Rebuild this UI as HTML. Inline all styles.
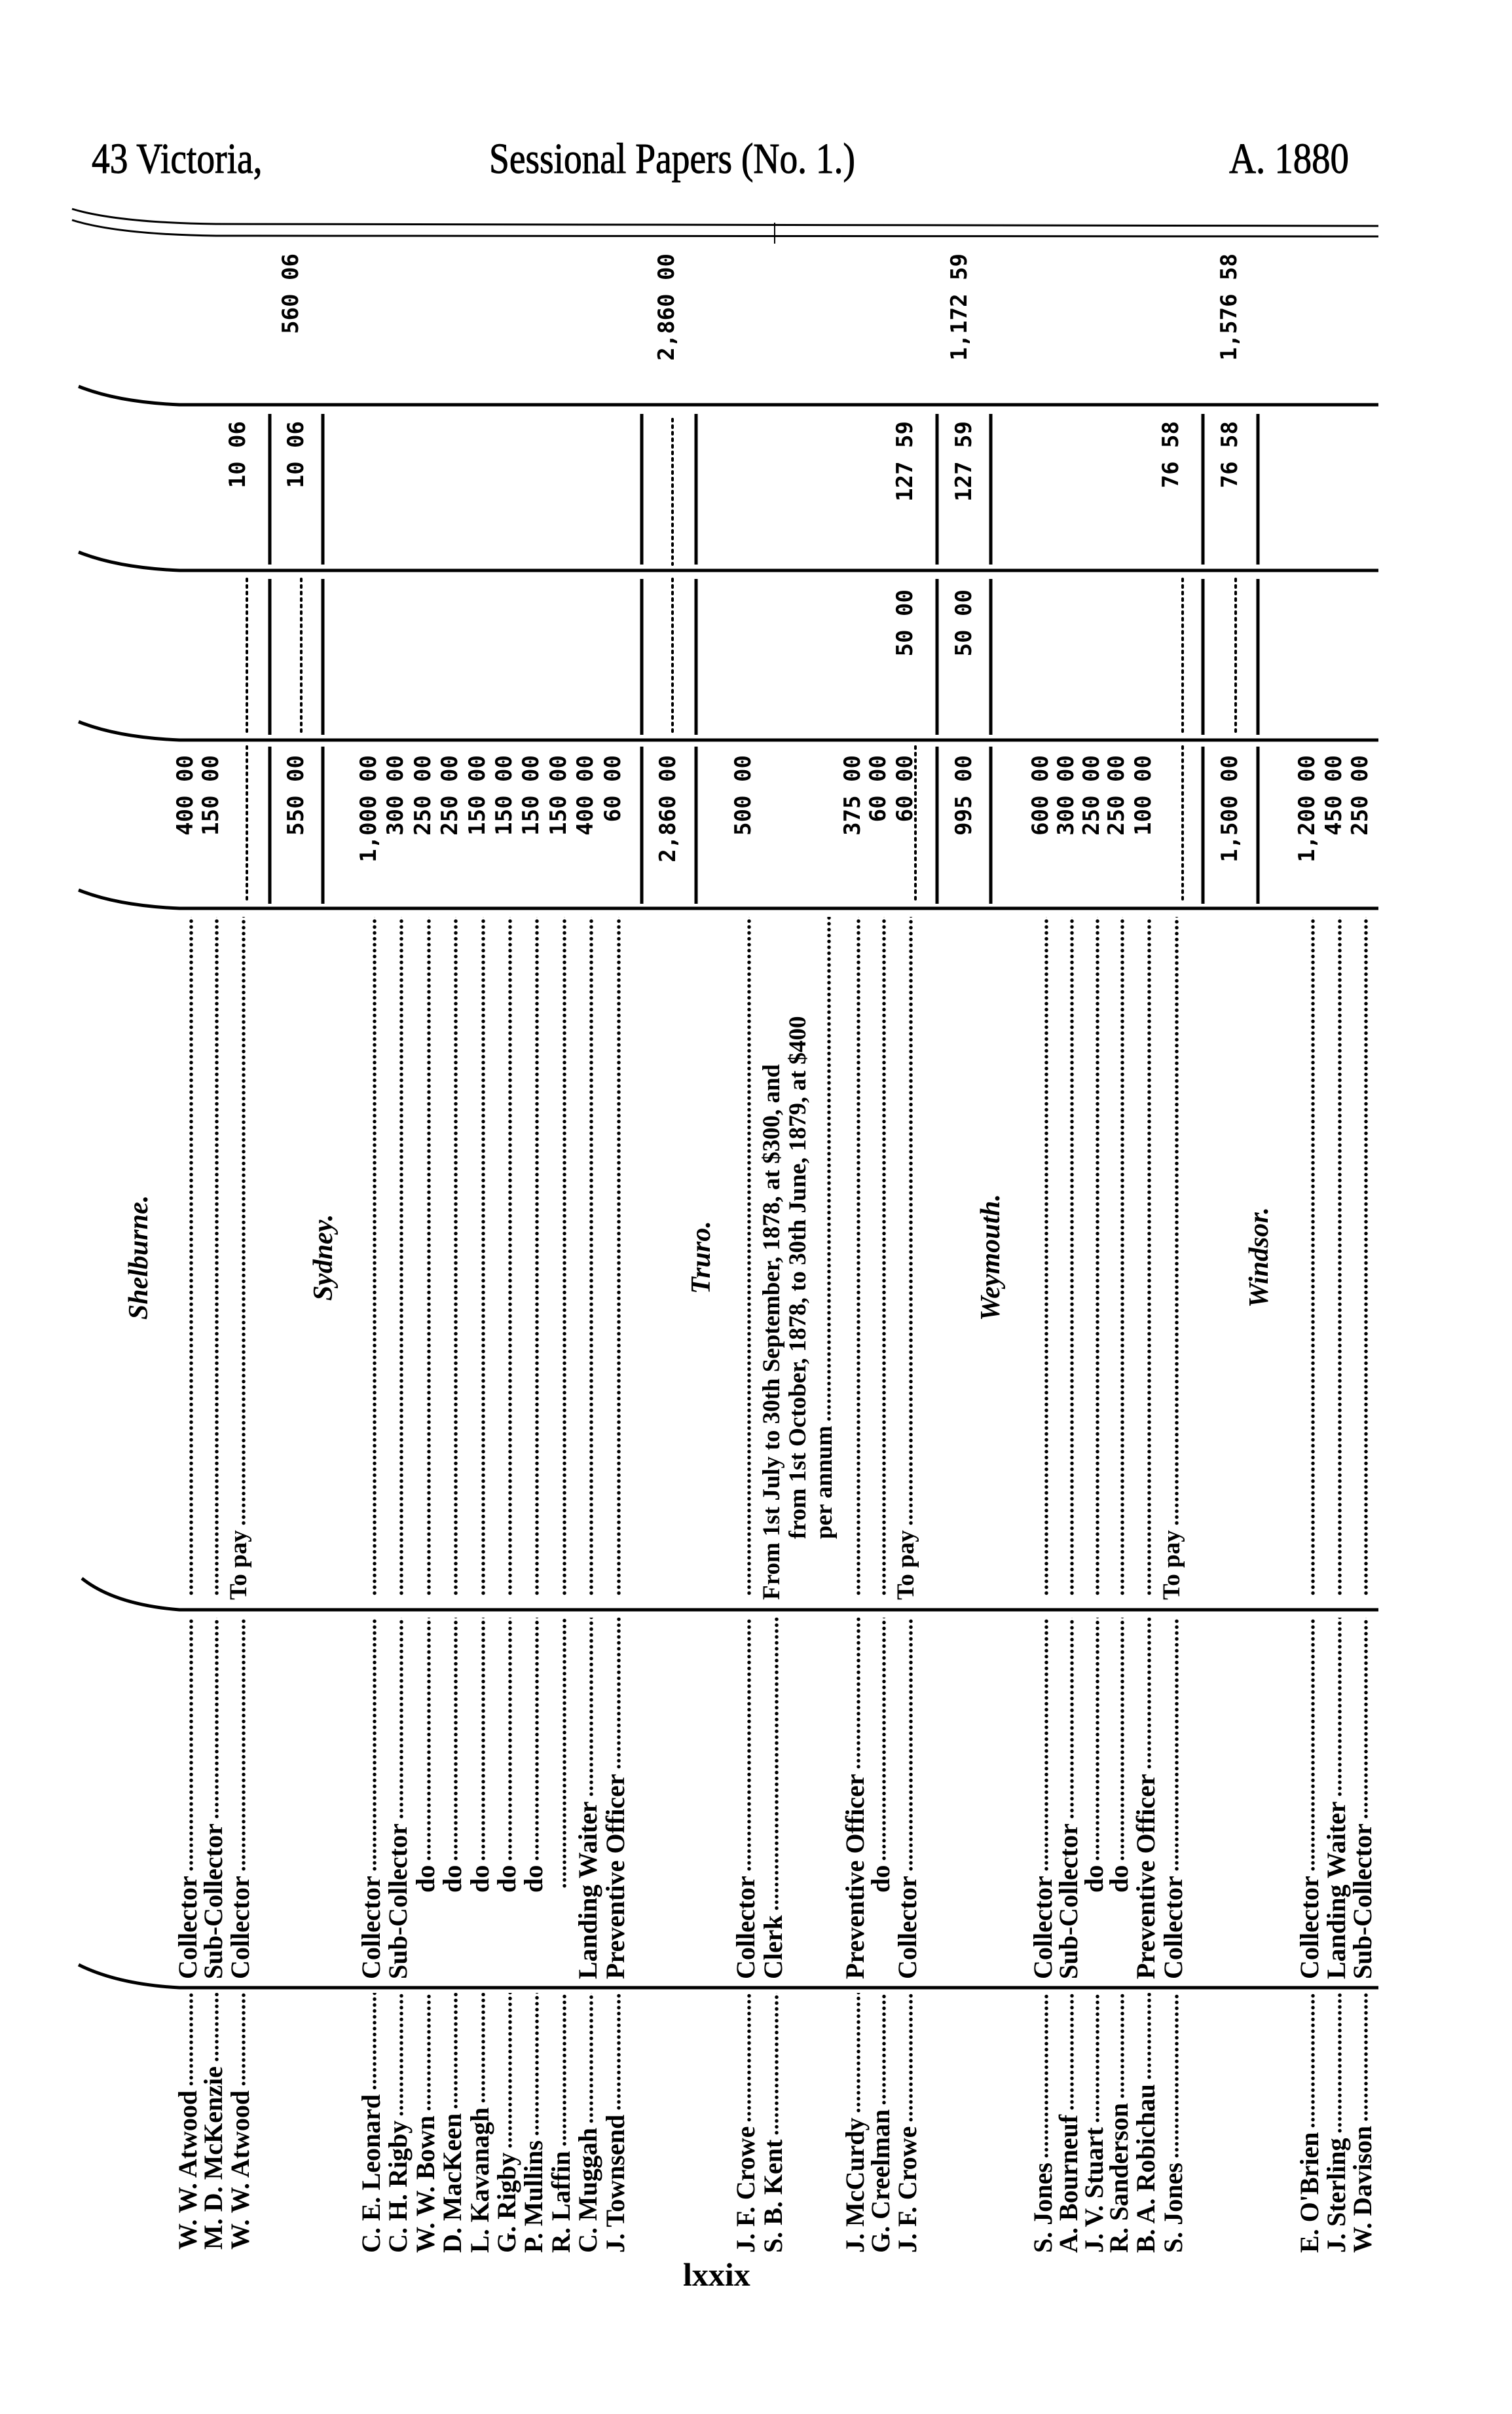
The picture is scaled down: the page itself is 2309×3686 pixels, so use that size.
<!DOCTYPE html>
<html><head><meta charset="utf-8">
<style>
html,body{margin:0;padding:0;background:#fff;}
body{width:2309px;height:3686px;position:relative;overflow:hidden;color:#000;}
.h{position:absolute;top:210px;font:66px/66px "Liberation Serif",serif;white-space:nowrap;transform:scaleX(0.84);transform-origin:0 0;-webkit-text-stroke:1px #000;}
.r{position:absolute;transform:rotate(-90deg);transform-origin:0 0;height:40px;line-height:40px;white-space:nowrap;display:flex;font:bold 40px "Liberation Serif",serif;}
.f{flex:1;height:6px;align-self:flex-end;margin:0 0 8px 6px;background:radial-gradient(circle,#000 2.4px,transparent 3px) 0 0/9px 6px repeat-x;}
.n{font:bold 34px "DejaVu Sans Mono","Liberation Mono",monospace;justify-content:flex-end;width:250px;}
.d{font:bold 37px "Liberation Serif",serif;}
.l{font:italic bold 42px "Liberation Serif",serif;justify-content:center;width:300px;}
svg{position:absolute;left:0;top:0;}
</style></head><body>

<div class="h" style="left:140px">43 Victoria,</div>
<div class="h" style="left:747px;transform:scaleX(0.84)">Sessional Papers (No. 1.)</div>
<div class="h" style="left:1877px;transform:scaleX(0.86)">A. 1880</div>

<svg width="2309" height="3686" viewBox="0 0 2309 3686">
<g fill="none" stroke="#000" stroke-width="5">
<path d="M110 319 Q180 340 330 342 L2105 345" stroke-width="3"/>
<path d="M110 336 Q180 358 330 360 L2105 361" stroke-width="3"/>
<path d="M1183 340 L1183 372" stroke-width="2"/>
<path d="M120 590 Q180 614 274 618 L2105 618"/>
<path d="M120 843 Q180 867 274 871 L2105 871"/>
<path d="M120 1102 Q180 1126 274 1130 L2105 1130"/>
<path d="M120 1359 Q180 1383 274 1387 L2105 1387"/>
<path d="M125 2410 Q175 2450 274 2458 L2105 2458"/>
<path d="M120 3000 Q180 3030 274 3035 L2105 3035"/>
</g>
<g stroke="#000" stroke-width="5">
<path d="M412 632V862M412 884V1122M412 1140V1380"/>
<path d="M493 632V862M493 884V1122M493 1140V1380"/>
<path d="M980 632V862M980 884V1122M980 1140V1380"/>
<path d="M1063 632V862M1063 884V1122M1063 1140V1380"/>
<path d="M1431 632V862M1431 884V1122M1431 1140V1380"/>
<path d="M1513 632V862M1513 884V1122M1513 1140V1380"/>
<path d="M1837 632V862M1837 884V1122M1837 1140V1380"/>
<path d="M1921 632V862M1921 884V1122M1921 1140V1380"/>
</g>
<g stroke="#000" stroke-width="4" stroke-dasharray="3 7" stroke-linecap="round">
<path d="M377 884V1122M377 1140V1380"/>
<path d="M460 884V1122"/>
<path d="M1027 640V862M1027 884V1122"/>
<path d="M1398 1140V1380"/>
<path d="M1806 884V1122M1806 1140V1380"/>
<path d="M1887 884V1122"/>
</g>
</svg>

<!-- totals column -->
<div class="r n" style="left:424px;top:637px">560 06</div>
<div class="r n" style="left:998px;top:637px">2,860 00</div>
<div class="r n" style="left:1445px;top:637px">1,172 59</div>
<div class="r n" style="left:1857px;top:637px">1,576 58</div>

<!-- amt3 column -->
<div class="r n" style="left:343px;top:893px">10 06</div>
<div class="r n" style="left:432px;top:893px">10 06</div>
<div class="r n" style="left:1362px;top:893px">127 59</div>
<div class="r n" style="left:1452px;top:893px">127 59</div>
<div class="r n" style="left:1768px;top:893px">76 58</div>
<div class="r n" style="left:1858px;top:893px">76 58</div>

<!-- amt2 column -->
<div class="r n" style="left:1362px;top:1150px">50 00</div>
<div class="r n" style="left:1452px;top:1150px">50 00</div>

<!-- amt1 column -->
<div class="r n" style="left:263px;top:1403px">400 00</div>
<div class="r n" style="left:302px;top:1403px">150 00</div>
<div class="r n" style="left:432px;top:1403px">550 00</div>
<div class="r n" style="left:543px;top:1403px">1,000 00</div>
<div class="r n" style="left:584px;top:1403px">300 00</div>
<div class="r n" style="left:626px;top:1403px">250 00</div>
<div class="r n" style="left:667px;top:1403px">250 00</div>
<div class="r n" style="left:709px;top:1403px">150 00</div>
<div class="r n" style="left:750px;top:1403px">150 00</div>
<div class="r n" style="left:791px;top:1403px">150 00</div>
<div class="r n" style="left:833px;top:1403px">150 00</div>
<div class="r n" style="left:874px;top:1403px">400 00</div>
<div class="r n" style="left:916px;top:1403px">60 00</div>
<div class="r n" style="left:1000px;top:1403px">2,860 00</div>
<div class="r n" style="left:1115px;top:1403px">500 00</div>
<div class="r n" style="left:1282px;top:1403px">375 00</div>
<div class="r n" style="left:1321px;top:1403px">60 00</div>
<div class="r n" style="left:1362px;top:1403px">60 00</div>
<div class="r n" style="left:1452px;top:1403px">995 00</div>
<div class="r n" style="left:1569px;top:1403px">600 00</div>
<div class="r n" style="left:1608px;top:1403px">300 00</div>
<div class="r n" style="left:1647px;top:1403px">250 00</div>
<div class="r n" style="left:1685px;top:1403px">250 00</div>
<div class="r n" style="left:1726px;top:1403px">100 00</div>
<div class="r n" style="left:1858px;top:1403px">1,500 00</div>
<div class="r n" style="left:1976px;top:1403px">1,200 00</div>
<div class="r n" style="left:2017px;top:1403px">450 00</div>
<div class="r n" style="left:2057px;top:1403px">250 00</div>

<!-- labels -->
<div class="r l" style="left:188px;top:2070px">Shelburne.</div>
<div class="r l" style="left:470px;top:2070px">Sydney.</div>
<div class="r l" style="left:1047px;top:2070px">Truro.</div>
<div class="r l" style="left:1489px;top:2070px">Weymouth.</div>
<div class="r l" style="left:1899px;top:2070px">Windsor.</div>

<!-- description column -->
<div class="r d" style="left:263px;top:2443px;width:1043px"><span class="f"></span></div>
<div class="r d" style="left:302px;top:2443px;width:1043px"><span class="f"></span></div>
<div class="r d" style="left:343px;top:2443px;width:1043px">To pay<span class="f"></span></div>
<div class="r d" style="left:543px;top:2443px;width:1043px"><span class="f"></span></div>
<div class="r d" style="left:584px;top:2443px;width:1043px"><span class="f"></span></div>
<div class="r d" style="left:626px;top:2443px;width:1043px"><span class="f"></span></div>
<div class="r d" style="left:667px;top:2443px;width:1043px"><span class="f"></span></div>
<div class="r d" style="left:709px;top:2443px;width:1043px"><span class="f"></span></div>
<div class="r d" style="left:750px;top:2443px;width:1043px"><span class="f"></span></div>
<div class="r d" style="left:791px;top:2443px;width:1043px"><span class="f"></span></div>
<div class="r d" style="left:833px;top:2443px;width:1043px"><span class="f"></span></div>
<div class="r d" style="left:874px;top:2443px;width:1043px"><span class="f"></span></div>
<div class="r d" style="left:916px;top:2443px;width:1043px"><span class="f"></span></div>
<div class="r d" style="left:1115px;top:2443px;width:1043px"><span class="f"></span></div>
<div class="r d" style="left:1157px;top:2443px;width:1043px">From 1st July to 30th September, 1878, at $300, and</div>
<div class="r d" style="left:1197px;top:2350px;width:950px">from 1st October, 1878, to 30th June, 1879, at $400</div>
<div class="r d" style="left:1237px;top:2350px;width:950px">per annum<span class="f"></span></div>
<div class="r d" style="left:1282px;top:2443px;width:1043px"><span class="f"></span></div>
<div class="r d" style="left:1321px;top:2443px;width:1043px"><span class="f"></span></div>
<div class="r d" style="left:1362px;top:2443px;width:1043px">To pay<span class="f"></span></div>
<div class="r d" style="left:1569px;top:2443px;width:1043px"><span class="f"></span></div>
<div class="r d" style="left:1608px;top:2443px;width:1043px"><span class="f"></span></div>
<div class="r d" style="left:1647px;top:2443px;width:1043px"><span class="f"></span></div>
<div class="r d" style="left:1685px;top:2443px;width:1043px"><span class="f"></span></div>
<div class="r d" style="left:1726px;top:2443px;width:1043px"><span class="f"></span></div>
<div class="r d" style="left:1768px;top:2443px;width:1043px">To pay<span class="f"></span></div>
<div class="r d" style="left:1976px;top:2443px;width:1043px"><span class="f"></span></div>
<div class="r d" style="left:2017px;top:2443px;width:1043px"><span class="f"></span></div>
<div class="r d" style="left:2057px;top:2443px;width:1043px"><span class="f"></span></div>

<!-- office column -->
<div class="r" style="left:263px;top:3022px;width:552px">Collector<span class="f"></span></div>
<div class="r" style="left:302px;top:3022px;width:552px">Sub-Collector<span class="f"></span></div>
<div class="r" style="left:343px;top:3022px;width:552px">Collector<span class="f"></span></div>
<div class="r" style="left:543px;top:3022px;width:552px">Collector<span class="f"></span></div>
<div class="r" style="left:584px;top:3022px;width:552px">Sub-Collector<span class="f"></span></div>
<div class="r" style="left:626px;top:2890px;width:420px">do<span class="f"></span></div>
<div class="r" style="left:667px;top:2890px;width:420px">do<span class="f"></span></div>
<div class="r" style="left:709px;top:2890px;width:420px">do<span class="f"></span></div>
<div class="r" style="left:750px;top:2890px;width:420px">do<span class="f"></span></div>
<div class="r" style="left:791px;top:2890px;width:420px">do<span class="f"></span></div>
<div class="r" style="left:833px;top:2890px;width:420px"><span class="f"></span></div>
<div class="r" style="left:874px;top:3022px;width:552px">Landing Waiter<span class="f"></span></div>
<div class="r" style="left:916px;top:3022px;width:552px">Preventive Officer<span class="f"></span></div>
<div class="r" style="left:1115px;top:3022px;width:552px">Collector<span class="f"></span></div>
<div class="r" style="left:1157px;top:3022px;width:552px">Clerk<span class="f"></span></div>
<div class="r" style="left:1282px;top:3022px;width:552px">Preventive Officer<span class="f"></span></div>
<div class="r" style="left:1321px;top:2890px;width:420px">do<span class="f"></span></div>
<div class="r" style="left:1362px;top:3022px;width:552px">Collector<span class="f"></span></div>
<div class="r" style="left:1569px;top:3022px;width:552px">Collector<span class="f"></span></div>
<div class="r" style="left:1608px;top:3022px;width:552px">Sub-Collector<span class="f"></span></div>
<div class="r" style="left:1647px;top:2890px;width:420px">do<span class="f"></span></div>
<div class="r" style="left:1685px;top:2890px;width:420px">do<span class="f"></span></div>
<div class="r" style="left:1726px;top:3022px;width:552px">Preventive Officer<span class="f"></span></div>
<div class="r" style="left:1768px;top:3022px;width:552px">Collector<span class="f"></span></div>
<div class="r" style="left:1976px;top:3022px;width:552px">Collector<span class="f"></span></div>
<div class="r" style="left:2017px;top:3022px;width:552px">Landing Waiter<span class="f"></span></div>
<div class="r" style="left:2057px;top:3022px;width:552px">Sub-Collector<span class="f"></span></div>

<!-- names column -->
<div class="r" style="left:263px;top:3435px;width:392px">W. W. Atwood<span class="f"></span></div>
<div class="r" style="left:302px;top:3435px;width:392px">M. D. McKenzie<span class="f"></span></div>
<div class="r" style="left:343px;top:3435px;width:392px">W. W. Atwood<span class="f"></span></div>
<div class="r" style="left:543px;top:3440px;width:397px">C. E. Leonard<span class="f"></span></div>
<div class="r" style="left:584px;top:3440px;width:397px">C. H. Rigby<span class="f"></span></div>
<div class="r" style="left:626px;top:3440px;width:397px">W. W. Bown<span class="f"></span></div>
<div class="r" style="left:667px;top:3440px;width:397px">D. MacKeen<span class="f"></span></div>
<div class="r" style="left:709px;top:3440px;width:397px">L. Kavanagh<span class="f"></span></div>
<div class="r" style="left:750px;top:3440px;width:397px">G. Rigby<span class="f"></span></div>
<div class="r" style="left:791px;top:3440px;width:397px">P. Mullins<span class="f"></span></div>
<div class="r" style="left:833px;top:3440px;width:397px">R. Laffin<span class="f"></span></div>
<div class="r" style="left:874px;top:3440px;width:397px">C. Muggah<span class="f"></span></div>
<div class="r" style="left:916px;top:3440px;width:397px">J. Townsend<span class="f"></span></div>
<div class="r" style="left:1115px;top:3440px;width:397px">J. F. Crowe<span class="f"></span></div>
<div class="r" style="left:1157px;top:3440px;width:397px">S. B. Kent<span class="f"></span></div>
<div class="r" style="left:1282px;top:3440px;width:397px">J. McCurdy<span class="f"></span></div>
<div class="r" style="left:1321px;top:3440px;width:397px">G. Creelman<span class="f"></span></div>
<div class="r" style="left:1362px;top:3440px;width:397px">J. F. Crowe<span class="f"></span></div>
<div class="r" style="left:1569px;top:3440px;width:397px">S. Jones<span class="f"></span></div>
<div class="r" style="left:1608px;top:3440px;width:397px">A. Bourneuf<span class="f"></span></div>
<div class="r" style="left:1647px;top:3440px;width:397px">J. V. Stuart<span class="f"></span></div>
<div class="r" style="left:1685px;top:3440px;width:397px">R. Sanderson<span class="f"></span></div>
<div class="r" style="left:1726px;top:3440px;width:397px">B. A. Robichau<span class="f"></span></div>
<div class="r" style="left:1768px;top:3440px;width:397px">S. Jones<span class="f"></span></div>
<div class="r" style="left:1976px;top:3440px;width:397px">E. O'Brien<span class="f"></span></div>
<div class="r" style="left:2017px;top:3440px;width:397px">J. Sterling<span class="f"></span></div>
<div class="r" style="left:2057px;top:3440px;width:397px">W. Davison<span class="f"></span></div>

<div style="position:absolute;left:1043px;top:3448px;font:bold 50px/50px 'Liberation Serif',serif;">lxxix</div>

</body></html>
